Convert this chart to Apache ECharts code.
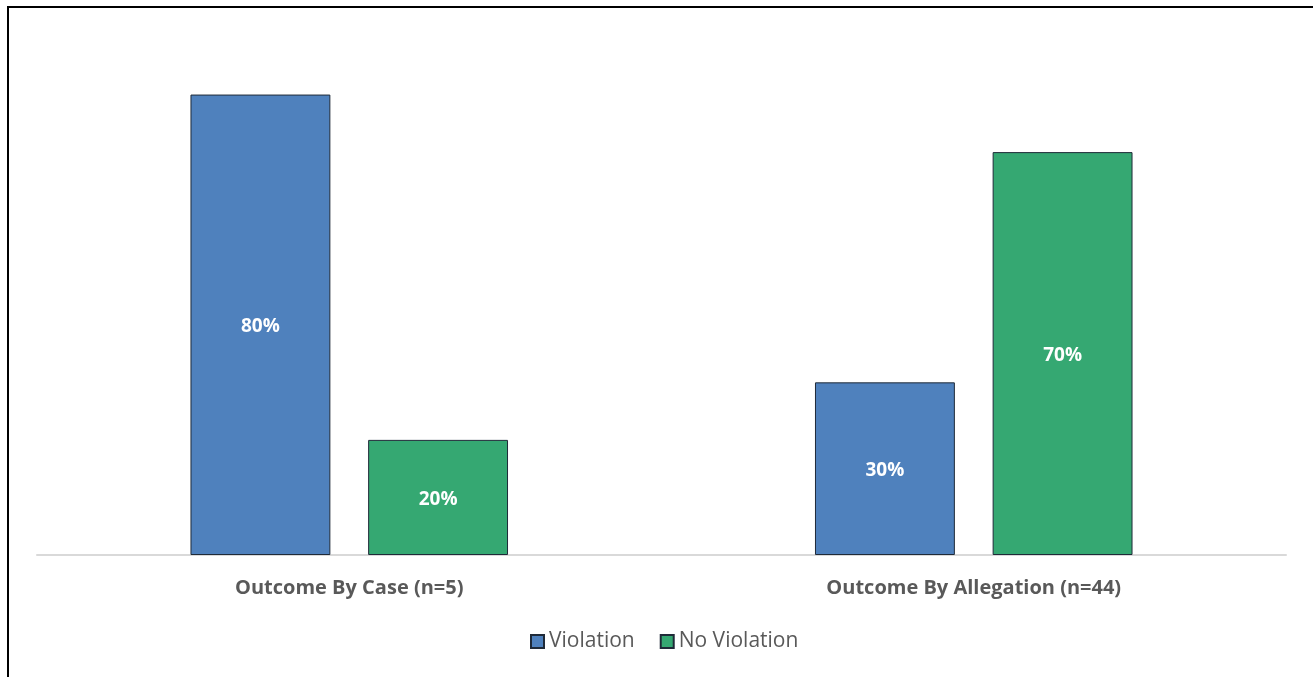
<!DOCTYPE html>
<html><head><meta charset="utf-8">
<script src="https://cdn.jsdelivr.net/npm/echarts@6/dist/echarts.min.js"></script>
<style>html,body{margin:0;padding:0;background:#fff}#c{width:1313px;height:677px;position:relative}
#frame{position:absolute;left:7px;top:6px;width:1320px;height:700px;border:2px solid #000;box-sizing:border-box;pointer-events:none}</style>
</head><body><div id="c"></div><div id="frame"></div>
<script>
const categories = ['Outcome By Case (n=5)', 'Outcome By Allegation (n=44)'];
const violation = [80, 30];
const noViolation = [20, 70];
const seriesNames = ['Violation', 'No Violation'];

const chart = echarts.init(document.getElementById('c'));
const font = '"Open Sans", Lato, sans-serif';
const lbl = {show:true, position:'inside', color:'#fff', fontWeight:'bold', fontSize:19, fontFamily:font, formatter: p => p.value + '%', offset:[0,2]};
chart.setOption({
  animation:false,
  textStyle:{fontFamily:font},
  grid:{left:37, right:27, top:37, bottom:122},
  legend:{bottom:20, left:525, itemWidth:13, itemHeight:13, itemGap:25,
    textStyle:{color:'#595959', fontSize:21, fontFamily:font},
    data:seriesNames.map(n=>({name:n, icon:'rect'}))},
  xAxis:{type:'category', data:categories,
    axisLine:{lineStyle:{color:'#d9d9d9', width:2}}, axisTick:{show:false},
    axisLabel:{color:'#595959', fontWeight:'bold', fontSize:20, fontFamily:font, margin:23}},
  yAxis:{type:'value', min:0, max:90, show:false, splitLine:{show:false}},
  series:[
    {name:seriesNames[0], type:'bar', data:violation, barWidth:'22.4%', barGap:'27%',
     itemStyle:{color:'#4f81bd', borderColor:'#1f2a38', borderWidth:1}, label:lbl},
    {name:seriesNames[1], type:'bar', data:noViolation, barWidth:'22.4%',
     itemStyle:{color:'#35a872', borderColor:'#1f2a38', borderWidth:1}, label:lbl}
  ]
});
</script></body></html>
